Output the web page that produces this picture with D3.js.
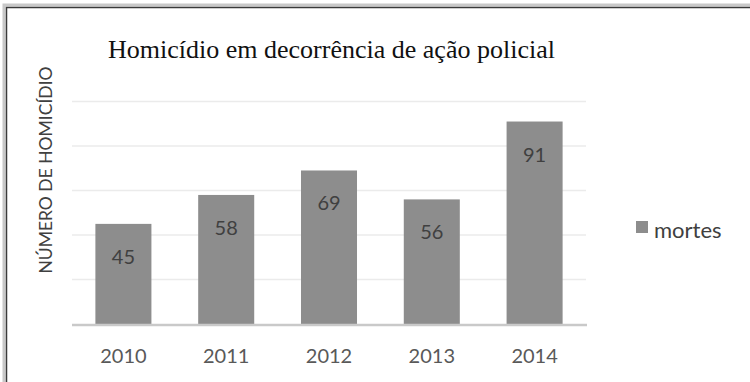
<!DOCTYPE html>
<html>
<head>
<meta charset="utf-8">
<script src="https://cdn.jsdelivr.net/npm/d3@7"></script>
<style>
  body { margin: 0; background: #fff; }
</style>
</head>
<body>
<div id="container"></div>
<script>
var years = ["2010", "2011", "2012", "2013", "2014"]
var mortes = [45, 58, 69, 56, 91]
var yTicks = [0, 20, 40, 60, 80, 100]
var titulo = "Homicídio em decorrência de ação policial"
var eixoY = "NÚMERO DE HOMICÍDIO"
var legenda = "mortes"

var svg = d3.select("#container").append("svg").attr("width", 750).attr("height", 382)

// moldura (only left and top edges are visible)
svg.append("rect").attr("x", 4).attr("y", 5).attr("width", 800).attr("height", 400)
    .attr("fill", "none").attr("stroke", "#c8c8c8").attr("stroke-width", 3)
svg.append("rect").attr("x", 6.5).attr("y", 7.5).attr("width", 800).attr("height", 400)
    .attr("fill", "none").attr("stroke", "#3a3a3a").attr("stroke-width", 1.5)

var xScale = d3.scaleBand().domain(years).range([72, 586]).paddingInner(0.455).paddingOuter(0.2275)
var yScale = d3.scaleLinear().domain([0, 100]).range([324, 101.5])

// gridlines
svg.selectAll(".grid")
    .data(yTicks.slice(1))
    .enter()
    .append("line")
    .attr("class", "grid")
    .attr("x1", 72).attr("x2", 586)
    .attr("y1", function(d){ return yScale(d) })
    .attr("y2", function(d){ return yScale(d) })
    .attr("stroke", "#ebebeb").attr("stroke-width", 1.5)

svg.selectAll(".bar")
    .data(mortes)
    .enter()
    .append("rect")
    .attr("class", "bar")
    .attr("x", function(d, i){ return xScale(years[i]) })
    .attr("y", function(d){ return yScale(d) })
    .attr("width", xScale.bandwidth())
    .attr("height", function(d){ return yScale(0) - yScale(d) })
    .attr("fill", "#8d8d8d")

// base line
svg.append("line")
    .attr("x1", 72).attr("x2", 587)
    .attr("y1", yScale(0) + 1).attr("y2", yScale(0) + 1)
    .attr("stroke", "#c9c9c9").attr("stroke-width", 2.5)

svg.selectAll(".valor")
    .data(mortes)
    .enter()
    .append("text")
    .attr("class", "valor")
    .attr("x", function(d, i){ return xScale(years[i]) + xScale.bandwidth() / 2 })
    .attr("y", function(d){ return yScale(d) + 40 })
    .attr("text-anchor", "middle")
    .attr("font-family", "Lato, 'Open Sans', sans-serif")
    .attr("font-size", 20)
    .attr("fill", "#404040")
    .text(function(d){ return d })

var xAxis = svg.append("g").attr("transform", "translate(0," + 324 + ")")
    .call(d3.axisBottom(xScale).tickSize(0).tickPadding(0))
xAxis.select(".domain").remove()
xAxis.selectAll("text")
    .attr("y", 39)
    .attr("dy", 0)
    .attr("font-family", "Lato, 'Open Sans', sans-serif")
    .attr("font-size", 20)
    .attr("fill", "#595959")

svg.append("text")
    .attr("x", 331.5).attr("y", 58)
    .attr("text-anchor", "middle")
    .attr("font-family", "'Liberation Serif', 'Times New Roman', serif")
    .attr("font-size", 26)
    .attr("fill", "#111")
    .text(titulo)

svg.append("text")
    .attr("transform", "translate(52,170) rotate(-90)")
    .attr("text-anchor", "middle")
    .attr("font-family", "Lato, 'Open Sans', sans-serif")
    .attr("font-size", 17.5)
    .attr("fill", "#404040")
    .text(eixoY)

// legenda
svg.append("rect").attr("x", 636).attr("y", 221).attr("width", 12).attr("height", 12).attr("fill", "#8d8d8d")
svg.append("text")
    .attr("x", 654).attr("y", 238)
    .attr("font-family", "Lato, 'Open Sans', sans-serif")
    .attr("font-size", 22)
    .attr("fill", "#404040")
    .text(legenda)
</script>
</body>
</html>
